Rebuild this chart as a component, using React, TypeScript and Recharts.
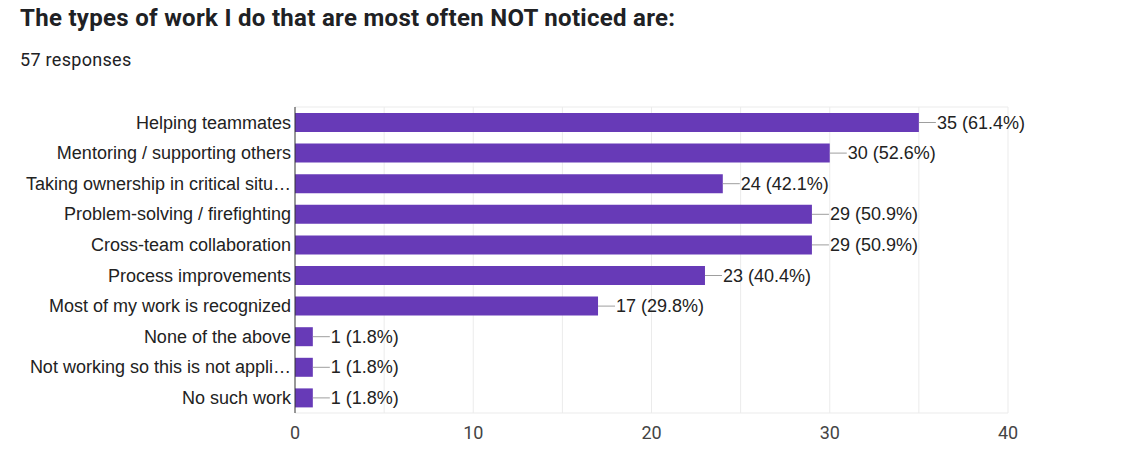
import React from "react"
import { BarChart, Bar, XAxis, YAxis, CartesianGrid, LabelList } from "recharts"

const CATEGORIES = [
  "Helping teammates",
  "Mentoring / supporting others",
  "Taking ownership in critical situ…",
  "Problem-solving / firefighting",
  "Cross-team collaboration",
  "Process improvements",
  "Most of my work is recognized",
  "None of the above",
  "Not working so this is not appli…",
  "No such work",
]
const COUNTS = [35, 30, 24, 29, 29, 23, 17, 1, 1, 1]
const PERCENTS = ["61.4%", "52.6%", "42.1%", "50.9%", "50.9%", "40.4%", "29.8%", "1.8%", "1.8%", "1.8%"]
const X_TICKS = [0, 10, 20, 30, 40]
const GRID_STEPS = [5, 10, 15, 20, 25, 30, 35, 40]

const data = CATEGORIES.map((name, i) => ({
  name,
  value: COUNTS[i],
  label: `${COUNTS[i]} (${PERCENTS[i]})`,
}))

const BAR_COLOR = "#673ab7"
const LABEL_FONT = "Arial, 'Liberation Sans', sans-serif"

function BarLabel(props: any) {
  const { x, y, width, height, value } = props
  const end = x + width
  const cy = y + height / 2
  return (
    <g>
      <line x1={end} x2={end + 17} y1={cy} y2={cy} stroke="#9e9e9e" strokeWidth={1} />
      <text
        x={end + 18}
        y={cy}
        dy={6}
        fontFamily={LABEL_FONT}
        fontSize={18}
        fill="#222"
      >
        {value}
      </text>
    </g>
  )
}

export default function App() {
  return (
    <div
      style={{
        position: "absolute",
        left: 0,
        top: 0,
        width: 1123,
        height: 457,
        background: "#fff",
        fontFamily: "Roboto, sans-serif",
        color: "#202124",
      }}
    >
      <div
        style={{
          position: "absolute",
          left: 20,
          top: 6,
          fontSize: 24,
          fontWeight: 700,
          lineHeight: 1,
          letterSpacing: 0.3,
          whiteSpace: "nowrap",
        }}
      >
        The types of work I do that are most often NOT noticed are:
      </div>
      <div
        style={{
          position: "absolute",
          left: 20,
          top: 51,
          fontSize: 18,
          lineHeight: 1,
          letterSpacing: 0.3,
          whiteSpace: "nowrap",
        }}
      >
        57 responses
      </div>
      <div style={{ position: "absolute", left: 0, top: 0 }}>
        <BarChart
          width={1123}
          height={457}
          data={data}
          layout="vertical"
          margin={{ top: 107, right: 115, bottom: 0, left: 0 }}
          barSize={19}
        >
          <CartesianGrid
            stroke="#ebebeb"
            verticalCoordinatesGenerator={({ offset }: any) =>
              GRID_STEPS.map((v) => offset.left + (v / 40) * offset.width)
            }
            horizontalCoordinatesGenerator={({ offset }: any) => [
              offset.top,
              offset.top + offset.height,
            ]}
          />
          <XAxis
            type="number"
            domain={[0, 40]}
            ticks={X_TICKS}
            height={44}
            axisLine={false}
            tickLine={false}
            tickSize={0}
            tickMargin={13}
            tick={{ fill: "#444", fontSize: 18, fontFamily: "Roboto, sans-serif" }}
          />
          <YAxis
            type="category"
            dataKey="name"
            width={295}
            axisLine={{ stroke: "#333" }}
            tickLine={false}
            tickSize={0}
            tickMargin={4}
            interval={0}
            tick={{ fill: "#222", fontSize: 18, fontFamily: LABEL_FONT }}
          />
          <Bar dataKey="value" fill={BAR_COLOR} isAnimationActive={false}>
            <LabelList dataKey="label" content={BarLabel} />
          </Bar>
        </BarChart>
      </div>
    </div>
  )
}
